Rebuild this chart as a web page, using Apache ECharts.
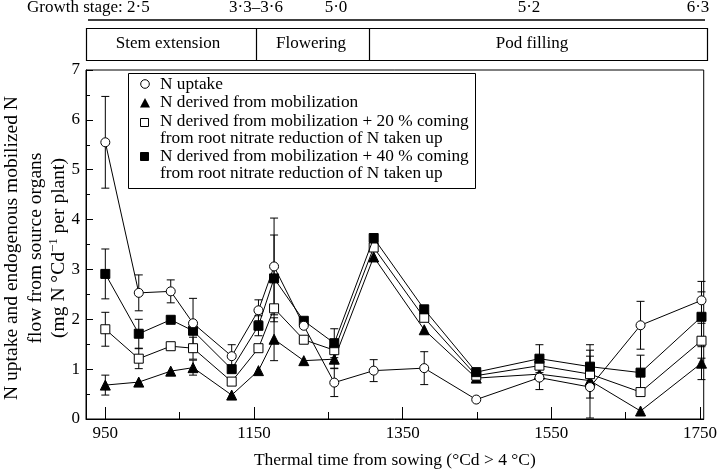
<!DOCTYPE html>
<html>
<head>
<meta charset="utf-8">
<script src="https://cdn.jsdelivr.net/npm/echarts@6/dist/echarts.min.js"></script>
<style>
html,body{margin:0;padding:0;background:#fff;}
#chart{width:720px;height:474px;}
</style>
</head>
<body>
<div id="chart"></div>
<script>
// Thermal time (°Cd > 4 °C) of each sampling
const thermalTime = [950, 995, 1038, 1068, 1120, 1156, 1177, 1217, 1258, 1311, 1379, 1449, 1534, 1602, 1670, 1752];
// N uptake (open circles)
const nUptake    = [5.55, 2.53, 2.56, 1.92, 1.26, 2.18, 3.06, 1.87, 0.73, 0.97, 1.02, 0.39, 0.83, 0.64, 1.88, 2.38];
const nUptakeErr = [0.92, 0.36, 0.23, 0.50, 0.23, 0.21, 0.97, null, 0.28, 0.22, 0.33, null, 0.24, 0.62, 0.48, 0.38];
// N derived from mobilization (filled triangles)
const nMobil     = [0.68, 0.74, 0.96, 1.03, 0.48, 0.97, 1.60, 1.17, 1.20, 3.25, 1.79, 0.82, 0.90, 0.77, 0.16, 1.12];
const nMobilErr  = [0.20, null, null, 0.15, null, null, 0.43, null, 0.18, null, null, null, null, null, null, 0.33];
// + 20 % root nitrate reduction (open squares)
const nMob20     = [1.80, 1.21, 1.46, 1.42, 0.75, 1.42, 2.22, 1.59, 1.38, 3.44, 2.03, 0.87, 1.07, 0.90, 0.54, 1.57];
const nMob20Err  = [0.34, 0.20, null, 0.22, null, null, null, null, null, null, null, null, null, 0.48, null, 0.35];
// + 40 % root nitrate reduction (filled squares)
const nMob40     = [2.91, 1.71, 1.99, 1.77, 1.00, 1.87, 2.82, 1.97, 1.52, 3.63, 2.20, 0.94, 1.21, 1.05, 0.93, 2.05];
const nMob40Err  = [0.50, 0.29, null, null, null, 0.20, 0.87, null, 0.29, null, null, null, 0.28, 0.44, 0.35, 0.50];

const xMajorTicks = [950, 1150, 1350, 1550, 1750];
const xMinorTicks = [1050, 1250, 1450, 1650];

const growthStages = ['Growth stage: 2·5', '3·3–3·6', '5·0', '5·2', '6·3'];
const phases = ['Stem extension', 'Flowering', 'Pod filling'];
const legendLabels = [
  ['N uptake'],
  ['N derived from mobilization'],
  ['N derived from mobilization + 20 % coming', 'from root nitrate reduction of N taken up'],
  ['N derived from mobilization + 40 % coming', 'from root nitrate reduction of N taken up']
];

const FONT = 'Liberation Serif';
const pts = v => thermalTime.map((t, i) => [t, v[i]]);
const errData = (v, e) => thermalTime.map((t, i) => [t, v[i], e[i]]).filter(d => d[2] != null);

function errRender(params, api) {
  const x = api.value(0), y = api.value(1), e = api.value(2);
  const top = api.coord([x, y + e]);
  const bot = api.coord([x, y - e]);
  const w = 4;
  const s = {stroke: '#000', lineWidth: 1};
  return {type: 'group', children: [
    {type: 'line', shape: {x1: top[0], y1: top[1], x2: bot[0], y2: bot[1]}, style: s},
    {type: 'line', shape: {x1: top[0]-w, y1: top[1], x2: top[0]+w, y2: top[1]}, style: s},
    {type: 'line', shape: {x1: bot[0]-w, y1: bot[1], x2: bot[0]+w, y2: bot[1]}, style: s}
  ]};
}

const chart = echarts.init(document.getElementById('chart'), null, {renderer: 'canvas'});

const lineSeries = (name, data, symbol, filled, z) => ({
  name, type: 'line', data: pts(data), symbol, symbolSize: symbol === 'triangle' ? 10 : 9,
  z, lineStyle: {color: '#000', width: 1},
  itemStyle: {color: filled ? '#000' : '#fff', borderColor: '#000', borderWidth: 1},
  emphasis: {disabled: true}, animation: false
});
const errSeries = (data, err) => ({
  type: 'custom', renderItem: errRender, data: errData(data, err), z: 1, animation: false, silent: true
});

const txt = (x, y, text, align, size) => ({
  type: 'text', x, y, style: {text, font: `${size || 17}px "${FONT}"`, fill: '#000', align: align || 'center', verticalAlign: 'middle'}
});

const graphics = [
  txt(27, 8, growthStages[0], 'left', 17),
  txt(256, 8, growthStages[1], 'center', 17),
  txt(336, 8, growthStages[2], 'center', 17),
  txt(529, 8, growthStages[3], 'center', 17),
  txt(698, 8, growthStages[4], 'center', 17),
  {type: 'line', shape: {x1: 88, y1: 20, x2: 705, y2: 20}, style: {stroke: '#000', lineWidth: 1.6}},
  {type: 'rect', shape: {x: 86.5, y: 28.5, width: 621, height: 32}, style: {stroke: '#000', fill: 'none', lineWidth: 1.2}},
  {type: 'line', shape: {x1: 256.5, y1: 28.5, x2: 256.5, y2: 60.5}, style: {stroke: '#000', lineWidth: 1.2}},
  {type: 'line', shape: {x1: 369.5, y1: 28.5, x2: 369.5, y2: 60.5}, style: {stroke: '#000', lineWidth: 1.2}},
  txt(168, 44, phases[0], 'center', 17),
  txt(311, 44, phases[1], 'center', 17),
  txt(532, 44, phases[2], 'center', 17),
  // legend box
  {type: 'rect', z: 100, shape: {x: 128.5, y: 73.5, width: 347, height: 115}, style: {stroke: '#000', fill: '#fff', lineWidth: 1}},
  {type: 'circle', z: 101, shape: {cx: 145, cy: 84, r: 4.3}, style: {stroke: '#000', fill: '#fff', lineWidth: 1}},
  {type: 'polygon', z: 101, shape: {points: [[145, 98], [140, 107.5], [150, 107.5]]}, style: {fill: '#000'}},
  {type: 'rect', z: 101, shape: {x: 140.5, y: 118.5, width: 8, height: 8}, style: {stroke: '#000', fill: '#fff', lineWidth: 1}},
  {type: 'rect', z: 101, shape: {x: 140.5, y: 152.5, width: 8, height: 8}, style: {stroke: '#000', fill: '#000', lineWidth: 1}},
];
const legendY = [[84], [102], [121, 138], [156, 173]];
legendLabels.forEach((lines, i) => lines.forEach((l, j) => {
  const g = txt(160, legendY[i][j], l, 'left', 17.3);
  g.z = 101;
  graphics.push(g);
}));
// y axis title (rotated)
const yTitle = [
  'N uptake and endogenous mobilized N',
  'flow from source organs',
  '(mg N °Cd{sup|−1} per plant)'
];
[12, 36, 59].forEach((x, i) => {
  graphics.push({type: 'text', x, y: 248, rotation: Math.PI / 2,
    style: {text: yTitle[i], font: `19.5px "${FONT}"`, fill: '#000', align: 'center', verticalAlign: 'middle',
      rich: {sup: {fontFamily: FONT, fontSize: 13, padding: [0, 0, 10, 0]}}}});
});

chart.setOption({
  animation: false,
  backgroundColor: '#fff',
  grid: {left: 86, right: 12, top: 70, bottom: 49, show: true, borderColor: '#000', borderWidth: 1, backgroundColor: 'transparent'},
  xAxis: [{
    type: 'value', min: 924, max: 1755, position: 'bottom',
    axisLine: {show: true, lineStyle: {color: '#000', width: 1}},
    axisTick: {show: true, inside: true, length: 12, customValues: xMajorTicks, lineStyle: {color: '#000'}},
    axisLabel: {customValues: xMajorTicks, formatter: v => String(v), color: '#000', fontFamily: FONT, fontSize: 17, margin: 6},
    splitLine: {show: false},
    name: 'Thermal time from sowing (°Cd > 4 °C)', nameLocation: 'middle', nameGap: 32,
    nameTextStyle: {color: '#000', fontFamily: FONT, fontSize: 17.5}
  }, {
    type: 'value', min: 924, max: 1755, position: 'bottom',
    axisLine: {show: false},
    axisTick: {show: true, inside: true, length: 7, customValues: xMinorTicks, lineStyle: {color: '#000'}},
    axisLabel: {show: false},
    splitLine: {show: false}
  }],
  yAxis: {
    type: 'value', min: 0, max: 7, interval: 1,
    axisLine: {show: true, lineStyle: {color: '#000', width: 1}},
    axisTick: {show: true, inside: true, length: 7, lineStyle: {color: '#000'}},
    minorTick: {show: true, splitNumber: 2, length: 4, lineStyle: {color: '#000'}},
    axisLabel: {color: '#000', fontFamily: FONT, fontSize: 17, margin: 6},
    splitLine: {show: false}
  },
  graphic: graphics,
  series: [
    errSeries(nMobil, nMobilErr),
    errSeries(nMob20, nMob20Err),
    errSeries(nMob40, nMob40Err),
    errSeries(nUptake, nUptakeErr),
    lineSeries('N derived from mobilization', nMobil, 'triangle', true, 2),
    lineSeries('+20 %', nMob20, 'rect', false, 3),
    lineSeries('+40 %', nMob40, 'rect', true, 4),
    lineSeries('N uptake', nUptake, 'circle', false, 5)
  ]
});
</script>
</body>
</html>
